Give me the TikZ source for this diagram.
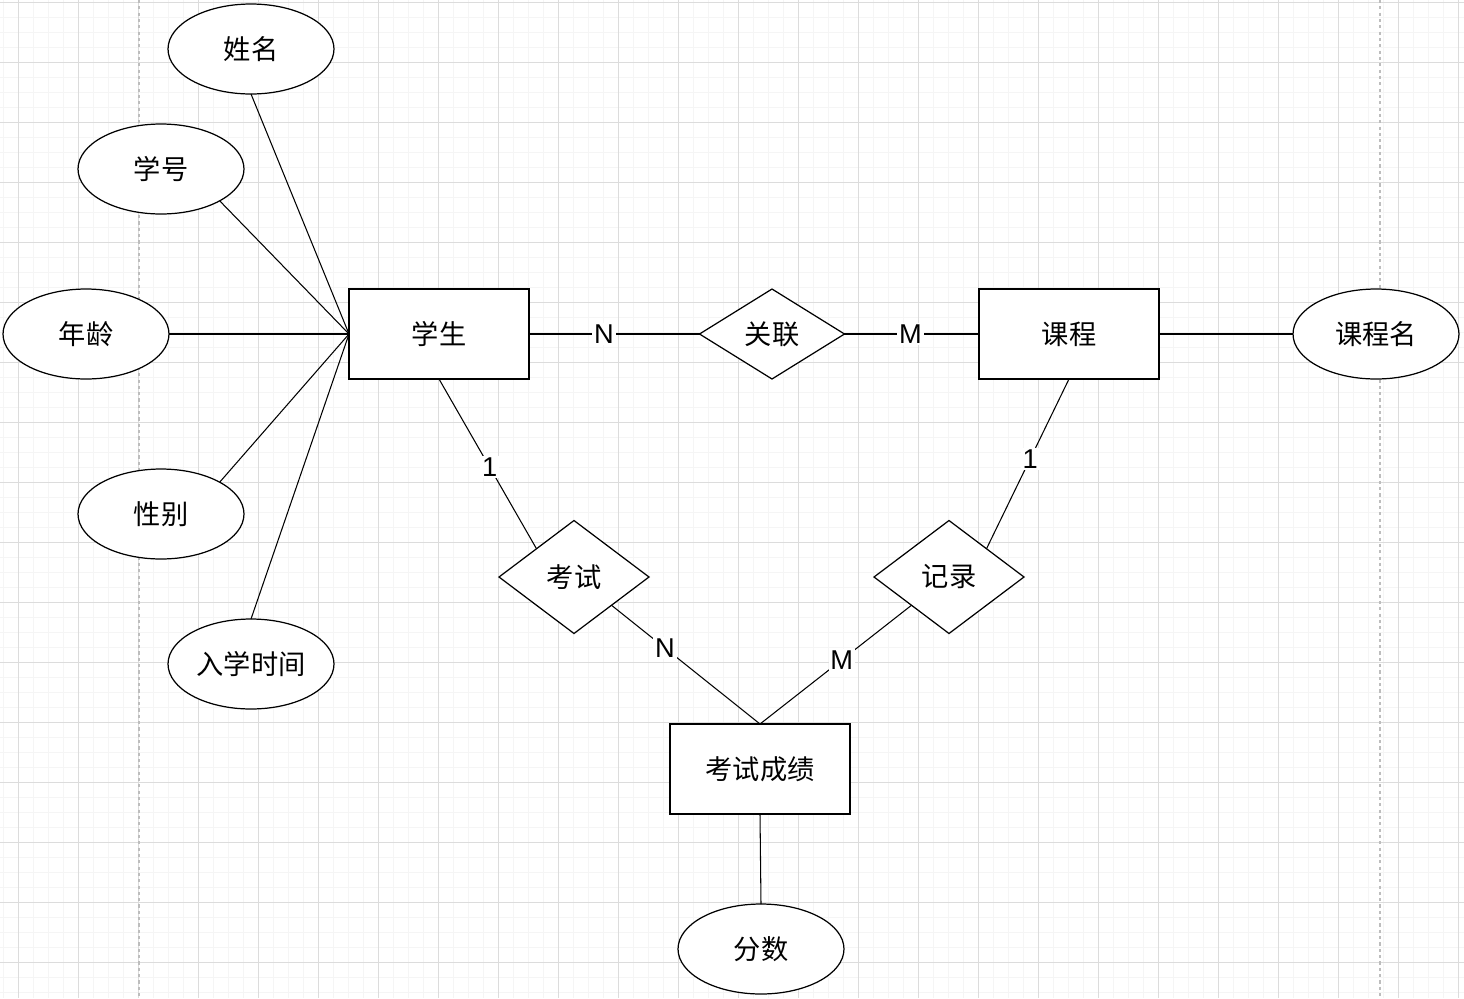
\documentclass[tikz,border=0pt]{standalone}
\usepackage{fontspec}
\newfontfamily\cjk{Noto Sans CJK SC}
\setsansfont{Liberation Sans}
\usetikzlibrary{shapes.geometric}
\definecolor{gridmajor}{HTML}{DCDCDC}
\definecolor{gridminor}{HTML}{F5F5F5}
\definecolor{pagedash}{HTML}{BDBDBD}
\tikzset{
  % an attribute
  attr/.style = {draw, ellipse, fill=white, line width=0.7pt, outer sep=0pt,
                 inner sep=0pt, minimum width=3.32cm, minimum height=1.8cm,
                 font=\cjk\fontsize{15.5}{18}\selectfont},
  % an entity
  ent/.style  = {draw, rectangle, fill=white, line width=0.7pt, outer sep=0pt,
                 minimum width=3.6cm, minimum height=1.8cm,
                 font=\cjk\fontsize{15.5}{18}\selectfont},
  % a relationship
  rel/.style  = {draw, diamond, fill=white, line width=0.7pt, outer sep=0pt,
                 inner sep=0pt, minimum width=3cm, minimum height=2.26cm,
                 font=\cjk\fontsize{15.5}{18}\selectfont},
  % a connector
  ln/.style   = {line width=0.6pt},
  % a cardinality label
  card/.style = {fill=white, inner sep=1pt, font=\sffamily\fontsize{15.5}{18}\selectfont},
}

\begin{document}
\begin{tikzpicture}[x=0.02cm, y=-0.02cm]
  % page and grid
  \fill[white] (0,0) rectangle (1464,998);
  \useasboundingbox (0,0) rectangle (1464,998);
  \foreach \x in {3,18,...,1463} \draw[gridminor, line width=0.5pt] (\x,0) -- (\x,998);
  \foreach \y in {2,17,...,997}  \draw[gridminor, line width=0.5pt] (0,\y) -- (1464,\y);
  \foreach \x in {18,78,...,1463} \draw[gridmajor, line width=0.5pt] (\x,0) -- (\x,998);
  \foreach \y in {2,62,...,997}   \draw[gridmajor, line width=0.5pt] (0,\y) -- (1464,\y);
  \draw[pagedash, line width=0.6pt, dash pattern=on 1.8pt off 1.8pt] (139,0) -- (139,998);
  \draw[pagedash, line width=0.6pt, dash pattern=on 1.8pt off 1.8pt] (1380,0) -- (1380,998);

  % entities
  \node[ent] (stu)   at (439,334) {学生};
  \node[ent] (crs)   at (1069,334) {课程};
  \node[ent] (score) at (760,769) {考试成绩};
  % relationships
  \node[rel, minimum width=2.9cm, minimum height=1.8cm] (link) at (772,334) {关联};
  \node[rel] (exam) at (574,577) {考试};
  \node[rel] (rec)  at (949,577) {记录};
  % attributes
  \node[attr] (name)  at (251,49)  {姓名};
  \node[attr] (sno)   at (161,169) {学号};
  \node[attr] (age)   at (86,334)  {年龄};
  \node[attr] (sex)   at (161,514) {性别};
  \node[attr] (enrol) at (251,664) {入学时间};
  \node[attr] (cname) at (1376,334) {课程名};
  \node[attr] (mark)  at (761,949) {分数};

  \draw[ln] (name.south)     -- (stu.west);
  \draw[ln] (sno.south east) -- (stu.west);
  \draw[ln] (age.east)       -- (stu.west);
  \draw[ln] (sex.north east) -- (stu.west);
  \draw[ln] (enrol.north)    -- (stu.west);
  \draw[ln] (crs.east)       -- (cname.west);
  \draw[ln] (score.south)    -- (mark.north);

  \draw[ln] (stu.east)  -- node[card, pos=0.44] {N} (link.west);
  \draw[ln] (link.east) -- node[card, pos=0.49] {M} (crs.west);
  \draw[ln] (stu.south) -- node[card, pos=0.52] {1} (exam.north west);
  \draw[ln] (crs.south) -- node[card, pos=0.47] {1} (rec.north east);
  \draw[ln] (exam.south east) -- node[card, pos=0.36] {N} (score.north);
  \draw[ln] (rec.south west)  -- node[card, pos=0.46] {M} (score.north);
\end{tikzpicture}
\end{document}
